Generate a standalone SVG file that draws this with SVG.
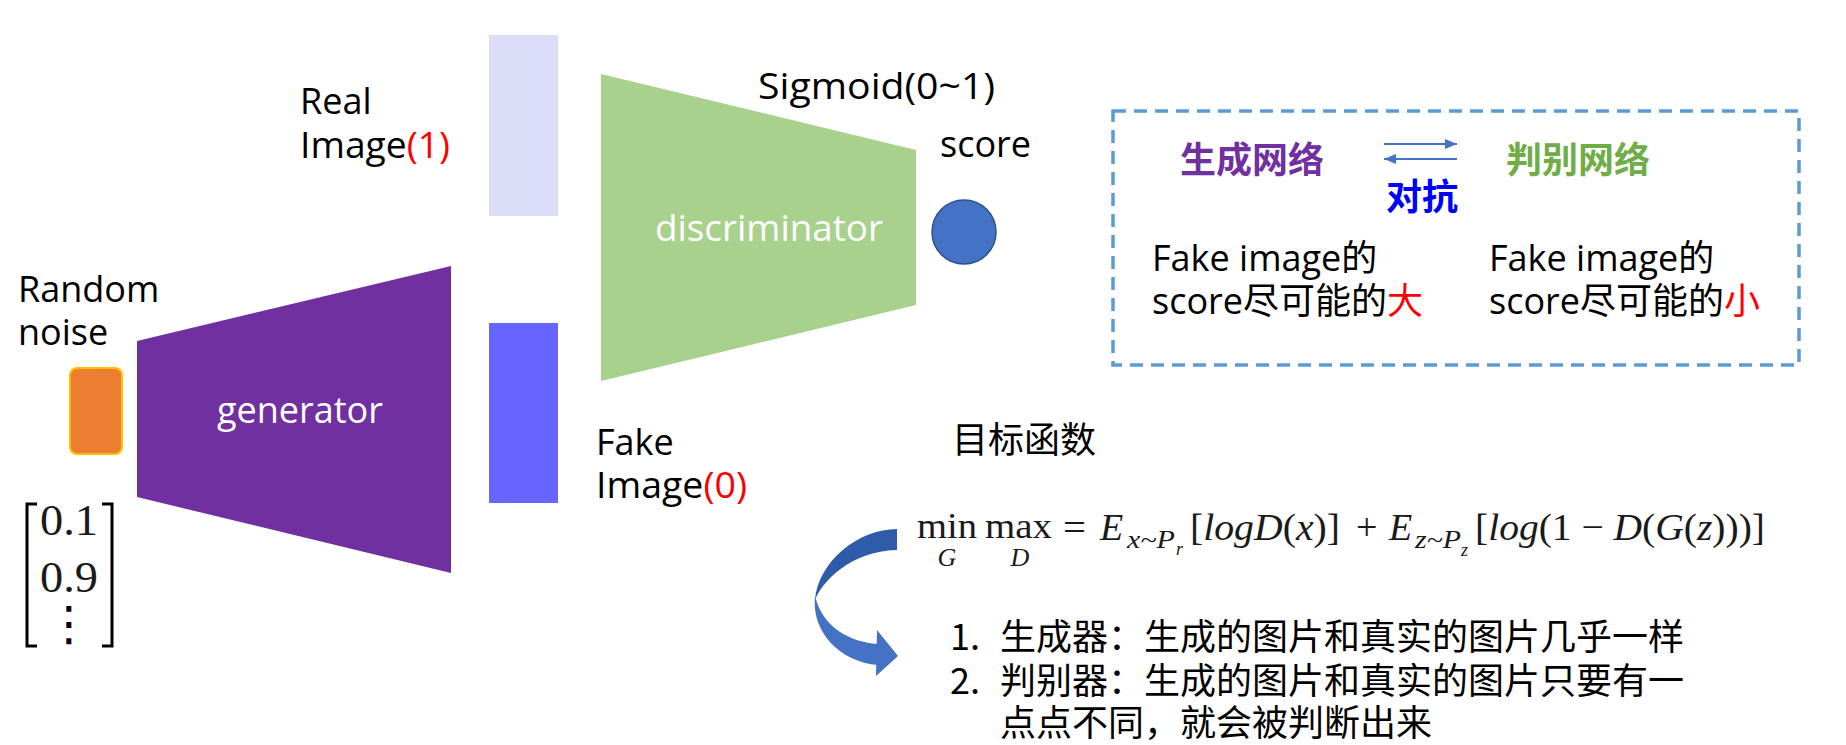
<svg xmlns="http://www.w3.org/2000/svg" width="1846" height="745" viewBox="0 0 1846 745">
  <defs>
    <style>
      .lbl { font-family: "Open Sans", "Noto Sans CJK SC", sans-serif; font-size: 36px; fill: #000000; }
      .cjk { font-family: "Noto Sans CJK SC", "Open Sans", sans-serif; font-size: 36px; fill: #000000; }
      .bold { font-weight: bold; }
      .white { fill: #FFFFFF; }
      .red { fill: #FF0000; }
      .math { font-family: "Liberation Serif", "DejaVu Serif", serif; fill: #1A1A1A; }
      .it { font-style: italic; }
    </style>
    <marker id="ah" viewBox="0 0 12 10" refX="12" refY="5" markerWidth="12" markerHeight="10" markerUnits="userSpaceOnUse" orient="auto">
      <path d="M0,0 L12,5 L0,10 Z" fill="#4472C4"/>
    </marker>
  </defs>

  <rect width="1846" height="745" fill="#FFFFFF"/>

  <!-- Real image -->
  <g id="real-image">
    <rect x="489" y="35" width="69" height="181" fill="#DCDDF7"/>
    <text class="lbl" x="300" y="114">Real</text>
    <text class="lbl" x="300" y="158" textLength="150" lengthAdjust="spacingAndGlyphs">Image<tspan class="red">(1)</tspan></text>
  </g>

  <!-- Random noise -->
  <g id="noise">
    <text class="lbl" x="18" y="302">Random</text>
    <text class="lbl" x="18" y="345">noise</text>
    <rect x="70" y="368" width="52" height="86" rx="7" fill="#ED7D31" stroke="#FFC000" stroke-width="2"/>
  </g>

  <!-- Noise vector -->
  <g id="noise-vector">
    <path d="M37,504 L27,504 L27,646 L37,646" fill="none" stroke="#000" stroke-width="3"/>
    <path d="M102,504 L112,504 L112,646 L102,646" fill="none" stroke="#000" stroke-width="3"/>
    <text class="math" font-size="44" x="40" y="535" textLength="58" lengthAdjust="spacingAndGlyphs" fill="#000">0.1</text>
    <text class="math" font-size="44" x="40" y="592" textLength="58" lengthAdjust="spacingAndGlyphs" fill="#000">0.9</text>
    <text x="69" y="640" font-family="DejaVu Sans, sans-serif" font-size="48" text-anchor="middle" fill="#000">⋮</text>
  </g>

  <!-- Generator -->
  <g id="generator">
    <polygon points="137,341 451,266 451,573 137,497" fill="#7030A0"/>
    <text class="lbl white" x="300" y="423" text-anchor="middle">generator</text>
  </g>

  <!-- Fake image -->
  <g id="fake-image">
    <rect x="489" y="323" width="69" height="180" fill="#6666FF"/>
    <text class="lbl" x="596" y="455">Fake</text>
    <text class="lbl" x="596" y="498" textLength="151" lengthAdjust="spacingAndGlyphs">Image<tspan class="red">(0)</tspan></text>
  </g>

  <!-- Discriminator -->
  <g id="discriminator">
    <polygon points="601,74 916,150 916,305 601,381" fill="#A9D18E"/>
    <text class="lbl white" x="769" y="241" text-anchor="middle" textLength="228" lengthAdjust="spacingAndGlyphs">discriminator</text>
  </g>

  <!-- Score -->
  <g id="score">
    <text class="lbl" x="758" y="99" textLength="237" lengthAdjust="spacingAndGlyphs">Sigmoid(0~1)</text>
    <text class="lbl" x="940" y="157">score</text>
    <circle cx="964" cy="232" r="32" fill="#4472C4" stroke="#2F528F" stroke-width="1.5"/>
  </g>

  <!-- Adversarial box -->
  <g id="adversarial-box">
    <rect x="1113" y="111" width="686" height="254" fill="none" stroke="#5B9BD5" stroke-width="3.5" stroke-dasharray="13 8"/>
    <text class="cjk bold" x="1180" y="173" style="fill:#7030A0">生成网络</text>
    <text class="cjk bold" x="1506" y="173" style="fill:#70AD47">判别网络</text>
    <text class="cjk bold" x="1386" y="210" font-size="35" style="fill:#0000FF">对抗</text>
    <text class="lbl" x="1152" y="271">Fake image的</text>
    <text class="lbl" x="1152" y="314">score尽可能的<tspan class="red">大</tspan></text>
    <text class="lbl" x="1489" y="271">Fake image的</text>
    <text class="lbl" x="1489" y="314">score尽可能的<tspan class="red">小</tspan></text>
  </g>

  <!-- Objective -->
  <g id="objective">
    <text class="cjk" x="952" y="453" font-size="35">目标函数</text>
    <text class="math" font-size="36" x="917" y="538" textLength="60" lengthAdjust="spacingAndGlyphs">min</text>
    <text class="math it" font-size="26" x="947" y="566" text-anchor="middle">G</text>
    <text class="math" font-size="36" x="985" y="538" textLength="67" lengthAdjust="spacingAndGlyphs">max</text>
    <text class="math it" font-size="26" x="1020" y="566" text-anchor="middle">D</text>
    <text class="math" font-size="38" x="1063" y="540" textLength="23" lengthAdjust="spacingAndGlyphs">=</text>
    <text class="math it" font-size="38" x="1100" y="540">E</text>
    <text class="math it" font-size="26" x="1127" y="548" textLength="48" lengthAdjust="spacingAndGlyphs">x~P</text>
    <text class="math it" font-size="18" x="1176" y="555">r</text>
    <text class="math" font-size="38" x="1190" y="540" textLength="150" lengthAdjust="spacingAndGlyphs">[<tspan class="it">logD</tspan>(<tspan class="it">x</tspan>)]</text>
    <text class="math" font-size="38" x="1356" y="540">+</text>
    <text class="math it" font-size="38" x="1389" y="540">E</text>
    <text class="math it" font-size="26" x="1415" y="548" textLength="46" lengthAdjust="spacingAndGlyphs">z~P</text>
    <text class="math it" font-size="18" x="1461" y="556">z</text>
    <text class="math" font-size="38" x="1475" y="540" textLength="290" lengthAdjust="spacingAndGlyphs">[<tspan class="it">log</tspan>(1 − <tspan class="it">D</tspan>(<tspan class="it">G</tspan>(<tspan class="it">z</tspan>)))]</text>
  </g>

  <!-- Notes -->
  <g id="notes">
    <text class="cjk" x="950" y="650">1.</text>
    <text class="cjk" x="1000" y="650">生成器：生成的图片和真实的图片几乎一样</text>
    <text class="cjk" x="950" y="694">2.</text>
    <text class="cjk" x="1000" y="694">判别器：生成的图片和真实的图片只要有一</text>
    <text class="cjk" x="1000" y="736">点点不同，就会被判断出来</text>
  </g>

  <!-- Connectors -->
  <g id="connectors">
    <line x1="1384" y1="144" x2="1457" y2="144" stroke="#4472C4" stroke-width="2" marker-end="url(#ah)"/>
    <line x1="1457" y1="159" x2="1384" y2="159" stroke="#4472C4" stroke-width="2" marker-end="url(#ah)"/>
    <path d="M897,529 C858,529 818,562 815,600 C822,582 850,551 897,550 Z" fill="#2F5CA8"/>
    <path d="M815,596 C811,632 840,662 878,665 L878,644 C850,642 823,628 815,596 Z" fill="#4472C4"/>
    <path d="M877,630 L898,656 L876,676 Z" fill="#4472C4"/>
  </g>
</svg>
